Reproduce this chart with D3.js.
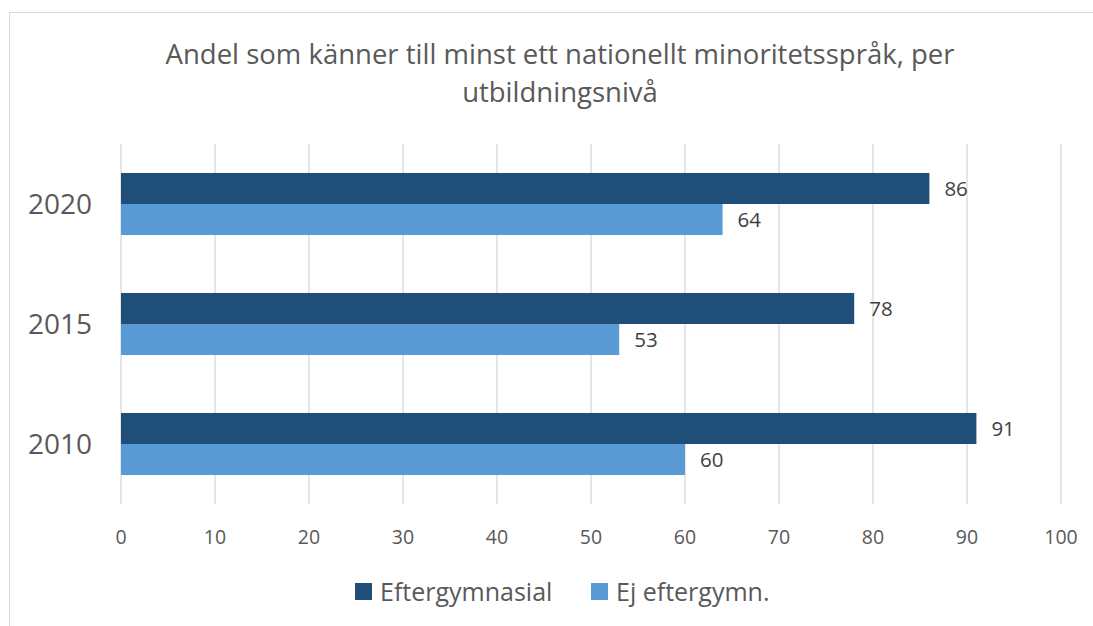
<!DOCTYPE html>
<html>
<head>
<meta charset="utf-8">
<script src="https://cdn.jsdelivr.net/npm/d3@7"></script>
<style>
  body { margin: 0; background: #fff; }
  text { font-family: "Open Sans", sans-serif; }
</style>
</head>
<body>
<svg width="1093" height="626"></svg>
<script>
// data
var years = ['2020', '2015', '2010'];
var seriesNames = ['Eftergymnasial', 'Ej eftergymn.'];
var eftergymnasial = [86, 78, 91];
var ejEftergymn = [64, 53, 60];
var xTicks = [0, 10, 20, 30, 40, 50, 60, 70, 80, 90, 100];
var colors = ['#1f4e79', '#5b9bd5'];

var svg = d3.select('svg');

// outer chart frame
svg.append('rect')
  .attr('x', 9.5).attr('y', 12.5)
  .attr('width', 1100).attr('height', 640)
  .attr('fill', '#fff')
  .attr('stroke', '#d9d9d9');

// plot area
var margin = { top: 144, left: 121 };
var width = 940, height = 360;
var g = svg.append('g').attr('transform', 'translate(' + margin.left + ',' + margin.top + ')');

var x = d3.scaleLinear().domain([0, 100]).range([0, width]);
var y = d3.scaleBand().domain(years).range([0, height]).paddingInner(0.483).paddingOuter(0.2415);
var sub = d3.scaleBand().domain(seriesNames).range([0, y.bandwidth()]);

// gridlines
g.selectAll('line.grid').data(xTicks).enter().append('line')
  .attr('x1', function(d) { return x(d); })
  .attr('x2', function(d) { return x(d); })
  .attr('y1', 0).attr('y2', height)
  .attr('stroke', '#d9d9d9').attr('stroke-width', 1.3);

// tick labels
g.selectAll('text.tick').data(xTicks).enter().append('text')
  .attr('x', function(d) { return x(d); })
  .attr('y', height + 40)
  .attr('text-anchor', 'middle')
  .attr('font-size', 19.5)
  .attr('fill', '#595959')
  .text(function(d) { return d; });

// year labels
g.selectAll('text.year').data(years).enter().append('text')
  .attr('x', -29)
  .attr('y', function(d) { return y(d) + y.bandwidth() / 2; })
  .attr('dy', '0.35em')
  .attr('text-anchor', 'end')
  .attr('font-size', 28)
  .attr('fill', '#595959')
  .text(function(d) { return d; });

// bars
var seriesData = [eftergymnasial, ejEftergymn];
seriesData.forEach(function(vals, si) {
  var name = seriesNames[si];
  g.selectAll('rect.s' + si).data(vals).enter().append('rect')
    .attr('x', 0)
    .attr('y', function(d, i) { return y(years[i]) + sub(name); })
    .attr('width', function(d) { return x(d); })
    .attr('height', sub.bandwidth())
    .attr('fill', colors[si]);

  g.selectAll('text.v' + si).data(vals).enter().append('text')
    .attr('x', function(d) { return x(d) + 15; })
    .attr('y', function(d, i) { return y(years[i]) + sub(name) + sub.bandwidth() / 2; })
    .attr('dy', '0.35em')
    .attr('font-size', 20.5)
    .attr('fill', '#404040')
    .text(function(d) { return d; });
});

// title
var title = svg.append('text')
  .attr('text-anchor', 'middle')
  .attr('font-size', 27.5)
  .attr('fill', '#595959');
title.append('tspan').attr('x', 560).attr('y', 64).text('Andel som känner till minst ett nationellt minoritetsspråk, per');
title.append('tspan').attr('x', 560).attr('y', 102).text('utbildningsnivå');

// legend
var legendX = [355, 591];
seriesNames.forEach(function(name, i) {
  svg.append('rect')
    .attr('x', legendX[i]).attr('y', 583)
    .attr('width', 17).attr('height', 17)
    .attr('fill', colors[i]);
  svg.append('text')
    .attr('x', legendX[i] + 25).attr('y', 592)
    .attr('dy', '0.35em')
    .attr('font-size', 25)
    .attr('fill', '#595959')
    .text(name);
});
</script>
</body>
</html>
